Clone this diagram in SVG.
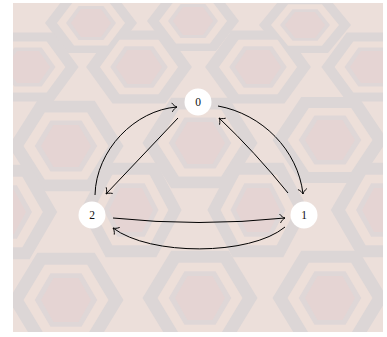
<svg xmlns="http://www.w3.org/2000/svg" xmlns:xlink="http://www.w3.org/1999/xlink" width="387" height="337" viewBox="0 0 387 337">
<style>
.edge{fill:none;stroke:#000;stroke-width:1;marker-end:url(#to)}
.node circle{fill:#fff}
.node text{font-family:"Liberation Serif","DejaVu Serif",serif;font-size:11.5px;fill:#111;text-anchor:middle}
</style>
<defs>
<marker id="to" viewBox="-6 -6 8 12" markerWidth="8" markerHeight="12" refX="0" refY="0" orient="auto" markerUnits="userSpaceOnUse">
<path d="M-5,-4.5 C-3.5,-2 -1.5,-0.5 0,0 C-1.5,0.5 -3.5,2 -5,4.5" fill="none" stroke="#000" stroke-width="0.9"/>
</marker>
<clipPath id="bgclip"><rect x="13" y="3" width="370" height="329"/></clipPath>
<path id="ho" d="M-2.3,0 L-1.15,-2.15 L1.15,-2.15 L2.3,0 L1.15,2.15 L-1.15,2.15Z" fill="#dcd6d6"/>
<g id="hi">
<path d="M-1.7,0 L-0.85,-1.6 L0.85,-1.6 L1.7,0 L0.85,1.6 L-0.85,1.6Z" fill="#eddfd9"/>
<path d="M-1.25,0 L-0.62,-1.22 L0.62,-1.22 L1.25,0 L0.62,1.22 L-0.62,1.22Z" fill="#dfd7d7"/>
<path d="M-1,0 L-0.5,-1 L0.5,-1 L1,0 L0.5,1 L-0.5,1Z" fill="#e5d4d3"/>
</g>
</defs>
<g id="background" clip-path="url(#bgclip)">
<rect x="13" y="3" width="370" height="329" fill="#ecdfda"/>
<use xlink:href="#ho" transform="translate(91,23) scale(20,14)"/>
<use xlink:href="#ho" transform="translate(193,21) scale(20,14)"/>
<use xlink:href="#ho" transform="translate(305,25) scale(20,13)"/>
<use xlink:href="#ho" transform="translate(28,67) scale(22,16)"/>
<use xlink:href="#ho" transform="translate(139,67) scale(23,17)"/>
<use xlink:href="#ho" transform="translate(258,67) scale(23,17)"/>
<use xlink:href="#ho" transform="translate(372,67) scale(22,16)"/>
<use xlink:href="#ho" transform="translate(66,146) scale(25,21)"/>
<use xlink:href="#ho" transform="translate(200,143) scale(25,21)"/>
<use xlink:href="#ho" transform="translate(330,140) scale(25,20)"/>
<use xlink:href="#ho" transform="translate(2,212) scale(24,22)"/>
<use xlink:href="#ho" transform="translate(131,210) scale(22,22)"/>
<use xlink:href="#ho" transform="translate(258,210) scale(22,22)"/>
<use xlink:href="#ho" transform="translate(386,210) scale(24,22)"/>
<use xlink:href="#ho" transform="translate(66,300) scale(25,22)"/>
<use xlink:href="#ho" transform="translate(200,298) scale(25,22)"/>
<use xlink:href="#ho" transform="translate(330,298) scale(25,22)"/>
<use xlink:href="#hi" transform="translate(91,23) scale(20,14)"/>
<use xlink:href="#hi" transform="translate(193,21) scale(20,14)"/>
<use xlink:href="#hi" transform="translate(305,25) scale(20,13)"/>
<use xlink:href="#hi" transform="translate(28,67) scale(22,16)"/>
<use xlink:href="#hi" transform="translate(139,67) scale(23,17)"/>
<use xlink:href="#hi" transform="translate(258,67) scale(23,17)"/>
<use xlink:href="#hi" transform="translate(372,67) scale(22,16)"/>
<use xlink:href="#hi" transform="translate(66,146) scale(25,21)"/>
<use xlink:href="#hi" transform="translate(200,143) scale(25,21)"/>
<use xlink:href="#hi" transform="translate(330,140) scale(25,20)"/>
<use xlink:href="#hi" transform="translate(2,212) scale(24,22)"/>
<use xlink:href="#hi" transform="translate(131,210) scale(22,22)"/>
<use xlink:href="#hi" transform="translate(258,210) scale(22,22)"/>
<use xlink:href="#hi" transform="translate(386,210) scale(24,22)"/>
<use xlink:href="#hi" transform="translate(66,300) scale(25,22)"/>
<use xlink:href="#hi" transform="translate(200,298) scale(25,22)"/>
<use xlink:href="#hi" transform="translate(330,298) scale(25,22)"/>
</g>
<g id="connectors">
<path class="edge" d="M95,195 C96,150 135,110 177,107"/>
<path class="edge" d="M178,118 L106,194"/>
<path class="edge" d="M218,106 C262,114 298,150 303,194"/>
<path class="edge" d="M288,193 Q255,152 219,118"/>
<path class="edge" d="M113,218 Q199,227 285,218"/>
<path class="edge" d="M285,227 C250,256 150,256 113,228"/>
</g>
<g id="node0" class="node"><circle cx="198" cy="102" r="13.5"/><text x="198" y="106">0</text></g>
<g id="node1" class="node"><circle cx="304" cy="215" r="13.5"/><text x="304" y="219">1</text></g>
<g id="node2" class="node"><circle cx="92" cy="215" r="13.5"/><text x="92" y="219">2</text></g>
</svg>
